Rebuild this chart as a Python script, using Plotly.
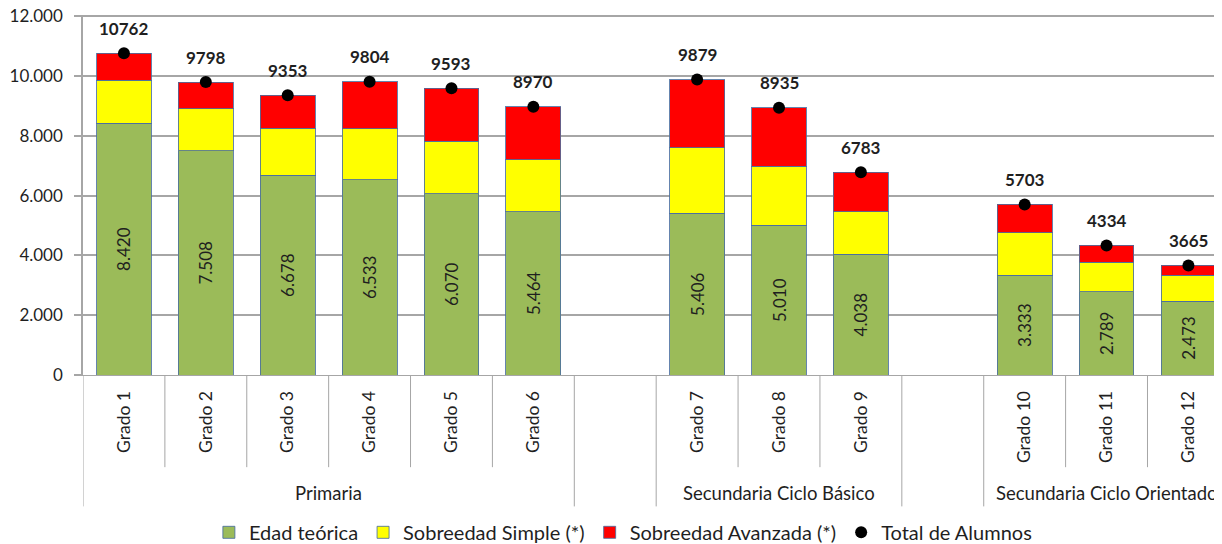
import plotly.graph_objects as go

groups = ["Primaria", "Secundaria Ciclo Básico", "Secundaria Ciclo Orientado"]
group_sizes = [6, 3, 3]
grades = ["Grado 1", "Grado 2", "Grado 3", "Grado 4", "Grado 5", "Grado 6",
          "Grado 7", "Grado 8", "Grado 9", "Grado 10", "Grado 11", "Grado 12"]
edad_teorica = [8420, 7508, 6678, 6533, 6070, 5464, 5406, 5010, 4038, 3333, 2789, 2473]
sobreedad_simple = [1430, 1400, 1570, 1710, 1750, 1740, 2190, 1970, 1430, 1430, 980, 870]
sobreedad_avanzada = [912, 890, 1105, 1561, 1773, 1766, 2283, 1955, 1315, 940, 565, 322]
total_alumnos = [10762, 9798, 9353, 9804, 9593, 8970, 9879, 8935, 6783, 5703, 4334, 3665]
y_ticks = [0, 2000, 4000, 6000, 8000, 10000, 12000]

FONT = "Lato"
TXT = "#1f1f1f"
GRID = "#a6a6a6"

# slot positions: grades in each group, one empty slot between groups
positions = []
group_spans = []
p = 0
for gsize in group_sizes:
    start = p
    for _ in range(gsize):
        positions.append(p)
        p += 1
    group_spans.append((start, p - 1))
    p += 1  # gap slot

fig = go.Figure()
outline = dict(color="rgba(74,110,160,0.85)", width=1)
fig.add_trace(go.Bar(
    x=positions, y=edad_teorica, name="Edad teórica",
    marker=dict(color="#9bbb59", line=outline),
    texttemplate="%{y:,}", textposition="inside", insidetextanchor="middle",
    textangle=-90, textfont=dict(family=FONT, size=17, color=TXT),
    constraintext="none", hoverinfo="y+name"))
fig.add_trace(go.Bar(
    x=positions, y=sobreedad_simple, name="Sobreedad Simple (*)",
    marker=dict(color="#ffff00", line=outline), hoverinfo="y+name"))
fig.add_trace(go.Bar(
    x=positions, y=sobreedad_avanzada, name="Sobreedad Avanzada (*)",
    marker=dict(color="#ff0000", line=outline), hoverinfo="y+name"))
fig.add_trace(go.Scatter(
    x=positions, y=total_alumnos, name="Total de Alumnos", mode="markers",
    marker=dict(color="black", size=12), hoverinfo="y+name"))

for xp, t in zip(positions, total_alumnos):
    fig.add_annotation(x=xp, y=t, text=f"<b>{t}</b>", showarrow=False,
                       yshift=25, font=dict(family=FONT, size=17, color=TXT))

# category axis dividers and group labels
shapes = []
short_y, long_y = -0.256, -0.365
for (s, e), gname in zip(group_spans, groups):
    shapes.append(dict(type="line", xref="x", yref="paper", x0=s - 0.5, x1=s - 0.5,
                       y0=0, y1=long_y, line=dict(color=GRID, width=1)))
    shapes.append(dict(type="line", xref="x", yref="paper", x0=e + 0.5, x1=e + 0.5,
                       y0=0, y1=long_y, line=dict(color=GRID, width=1)))
    for b in range(s, e):
        shapes.append(dict(type="line", xref="x", yref="paper", x0=b + 0.5, x1=b + 0.5,
                           y0=0, y1=short_y, line=dict(color=GRID, width=1)))
    fig.add_annotation(x=(s + e) / 2, y=-0.329, xref="x", yref="paper", text=gname,
                       showarrow=False, yanchor="middle",
                       font=dict(family=FONT, size=18.5, color=TXT))

# page body has an 8px margin, so the figure is 8px smaller and margins shifted
fig.update_layout(
    width=1214, height=536,
    margin=dict(l=75, r=0, t=7, b=169, autoexpand=False),
    barmode="stack", bargap=0.33,
    plot_bgcolor="white", paper_bgcolor="white",
    separators=",.",
    font=dict(family=FONT, size=16, color=TXT),
    shapes=shapes,
    showlegend=True,
    legend=dict(orientation="h", x=0.474, xanchor="center", y=-0.437, yanchor="middle",
                traceorder="normal", font=dict(family=FONT, size=20, color=TXT),
                itemwidth=30),
    xaxis=dict(range=[-0.5, 13.41], tickvals=positions, ticktext=grades, tickangle=-90,
               showgrid=False, showline=True, linecolor=GRID, linewidth=1,
               ticks="", ticklabelstandoff=8, zeroline=False, automargin=False,
               ticklabeloverflow="allow",
               tickfont=dict(family=FONT, size=17.5, color=TXT)),
    yaxis=dict(range=[0, 12040], tickvals=y_ticks,
               tickformat=",", showgrid=True,
               gridcolor=GRID, gridwidth=1.5, showline=True, linecolor=GRID, linewidth=1.5,
               ticks="outside", ticklen=7, tickcolor=GRID, tickwidth=1.5, zeroline=False,
               ticklabelstandoff=8, automargin=False, ticklabeloverflow="allow",
               tickfont=dict(family=FONT, size=17, color=TXT)),
)

fig.write_html("out.html")
